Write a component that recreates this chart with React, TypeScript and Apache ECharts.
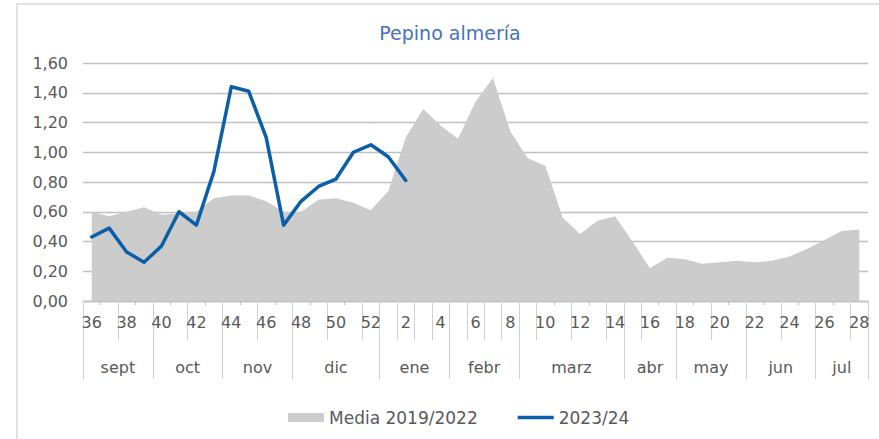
import React, { useEffect, useRef } from "react";
import * as echarts from "echarts";

const weeks = [
  "36", "37", "38", "39", "40", "41", "42", "43", "44", "45", "46", "47", "48", "49", "50", "51", "52",
  "1", "2", "3", "4", "5", "6", "7", "8", "9", "10", "11", "12", "13", "14", "15", "16", "17", "18", "19", "20",
  "21", "22", "23", "24", "25", "26", "27", "28",
];

const media = [
  0.60, 0.57, 0.60, 0.63, 0.58, 0.59, 0.60, 0.69, 0.71, 0.71, 0.67, 0.60,
  0.60, 0.68, 0.69, 0.66, 0.61, 0.74,
  1.10, 1.29, 1.18, 1.09, 1.34, 1.50, 1.14, 0.96, 0.91, 0.56,
  0.45, 0.54, 0.57, 0.40, 0.22, 0.29, 0.28, 0.25, 0.26, 0.27, 0.26, 0.27, 0.30, 0.35, 0.41, 0.47, 0.48,
];

const campaign = [
  0.43, 0.49, 0.33, 0.26, 0.37, 0.60, 0.51, 0.87, 1.44, 1.41, 1.10, 0.51,
  0.67, 0.77, 0.82, 1.00, 1.05, 0.97, 0.81,
];

const months = ["sept", "oct", "nov", "dic", "ene", "febr", "marz", "abr", "may", "jun", "jul"];
const monthWeekCounts = [4, 4, 4, 5, 4, 4, 6, 3, 4, 4, 3];

// week-label divider positions (category index of left boundary)
const weekDividers = [0, 2, 4, 6, 8, 10, 12, 14, 16, 17, 18, 19, 20, 21, 22, 23, 24, 25, 26, 28, 30, 32, 34, 36, 38, 40, 42, 44];

const seriesNames = ["Media 2019/2022", "2023/24"];

const GRAY = "#595959";
const FONT = "DejaVu Sans";

export default function App() {
  const ref = useRef<HTMLDivElement>(null);

  useEffect(() => {
    if (!ref.current) return;
    const chart = echarts.init(ref.current, undefined, { renderer: "svg" });

    const monthStarts: number[] = [];
    const monthCenters = new Map<number, string>();
    let acc = 0;
    monthWeekCounts.forEach((c, i) => {
      monthStarts.push(acc);
      monthCenters.set(acc + c / 2, months[i]);
      acc += c;
    });
    const monthStartSet = new Set(monthStarts);
    const dividerSet = new Set(weekDividers);

    const option: any = {
      animation: false,
      textStyle: { fontFamily: FONT },
      grid: { left: 83, right: 11, top: 63, bottom: 138, containLabel: false },
      graphic: [
        {
          type: "rect",
          z: -10,
          shape: { x: 17, y: 4, width: 900, height: 500 },
          style: { fill: "none", stroke: "#D9D9D9", lineWidth: 1.5 },
        },
        {
          type: "text",
          x: 450,
          y: 33,
          style: {
            text: "Pepino almería",
            fill: "#4472C4",
            font: `19px "${FONT}"`,
            textAlign: "center",
            textVerticalAlign: "middle",
          },
        },
      ],
      legend: {
        left: 283,
        top: 404,
        itemWidth: 36,
        itemHeight: 9,
        itemGap: 40,
        textStyle: { fontSize: 17, color: GRAY, fontFamily: FONT },
        data: [
          { name: seriesNames[0], icon: "rect" },
          { name: seriesNames[1], icon: "path://M0,0H40V4H0Z" },
        ],
      },
      xAxis: [
        {
          type: "category",
          position: "bottom",
          data: weeks,
          boundaryGap: true,
          axisLine: { show: true, lineStyle: { color: "#BFBFBF", width: 1.3 } },
          axisTick: { show: true, interval: 0, length: 4, lineStyle: { color: "#BFBFBF" } },
          axisLabel: { interval: 1, margin: 13, fontSize: 16, color: GRAY, fontFamily: FONT },
          splitLine: { show: false },
        },
        {
          type: "category",
          position: "bottom",
          data: weeks,
          boundaryGap: true,
          axisLine: { show: false },
          axisTick: {
            show: true,
            interval: (i: number) => dividerSet.has(i),
            length: 39,
            lineStyle: { color: "#D0D0D0" },
          },
          axisLabel: { show: false },
          splitLine: { show: false },
        },
        {
          type: "category",
          position: "bottom",
          data: weeks,
          boundaryGap: true,
          axisLine: { show: false },
          axisTick: {
            show: true,
            interval: (i: number) => monthStartSet.has(i),
            length: 78,
            lineStyle: { color: "#D0D0D0" },
          },
          axisLabel: { show: false },
          splitLine: { show: false },
        },
        {
          type: "value",
          position: "bottom",
          min: 0,
          max: weeks.length,
          interval: 0.5,
          axisLine: { show: false },
          axisTick: { show: false },
          splitLine: { show: false },
          axisLabel: {
            margin: 58,
            fontSize: 16,
            color: GRAY,
            fontFamily: FONT,
            formatter: (v: number) => monthCenters.get(v) ?? "",
          },
        },
      ],
      yAxis: {
        type: "value",
        min: 0,
        max: 1.6,
        interval: 0.2,
        axisLine: { show: false },
        axisTick: { show: false },
        axisLabel: {
          margin: 15,
          fontSize: 16,
          color: GRAY,
          fontFamily: FONT,
          formatter: (v: number) => v.toFixed(2).replace(".", ","),
        },
        splitLine: { lineStyle: { color: "#C0C0C0", width: 1.3 } },
      },
      series: [
        {
          name: seriesNames[0],
          type: "line",
          xAxisIndex: 0,
          yAxisIndex: 0,
          data: media,
          symbol: "none",
          itemStyle: { color: "#CCCCCC" },
          lineStyle: { width: 0, color: "#CCCCCC" },
          areaStyle: { color: "#CCCCCC", opacity: 1 },
          z: 1,
        },
        {
          name: seriesNames[1],
          type: "line",
          xAxisIndex: 0,
          yAxisIndex: 0,
          data: campaign,
          symbol: "none",
          itemStyle: { color: "#0B5EA8" },
          lineStyle: { width: 3.5, color: "#0B5EA8", cap: "round", join: "round" },
          z: 3,
        },
      ],
    };

    chart.setOption(option);
    return () => chart.dispose();
  }, []);

  return (
    <div
      ref={ref}
      style={{ position: "fixed", left: 0, top: 0, width: 879, height: 439, background: "#fff" }}
    />
  );
}
